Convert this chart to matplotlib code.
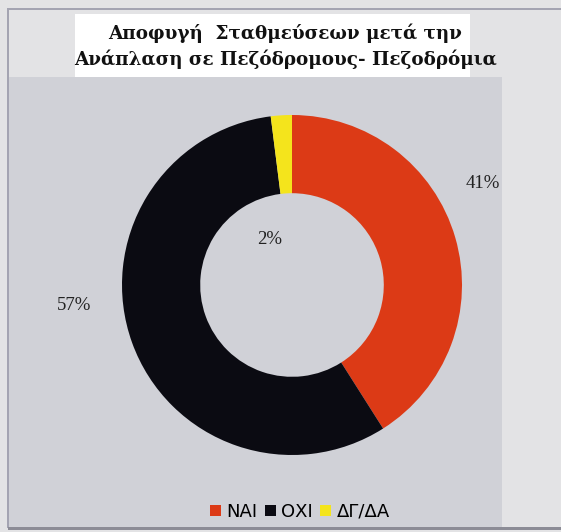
import matplotlib.pyplot as plt
from matplotlib.patches import Rectangle

# survey answers
labels = ["ΝΑΙ", "ΟΧΙ", "ΔΓ/ΔΑ"]
shares = [41, 57, 2]
colors = ["#dc3a16", "#0b0b12", "#f4e41c"]
title = "Αποφυγή  Σταθμεύσεων μετά την\nΑνάπλαση σε Πεζόδρομους- Πεζοδρόμια"

W, H = 561, 532
fig = plt.figure(figsize=(W / 100, H / 100), dpi=100, facecolor="#e3e3e5")


def px_rect(x0, y0, x1, y1, **kw):
    # rectangle given in pixel coords measured from the top-left corner
    return Rectangle((x0 / W, 1 - y1 / H), (x1 - x0) / W, (y1 - y0) / H,
                     transform=fig.transFigure, figure=fig, zorder=-1, **kw)


# panel background, title box and frame lines
fig.patches.append(px_rect(8, 77, 502, 528, facecolor="#d0d1d7", edgecolor="none"))
fig.patches.append(px_rect(75, 14, 470, 77, facecolor="white", edgecolor="none"))
fig.patches.append(px_rect(8, 8, 561, 9.5, facecolor="#a4a4b2", edgecolor="none"))
fig.patches.append(px_rect(7, 8, 8.5, 528, facecolor="#a4a4b2", edgecolor="none"))
fig.patches.append(px_rect(8, 527, 561, 529.5, facecolor="#8c8c96", edgecolor="none"))

fig.text(285 / W, 1 - 46 / H, title, ha="center", va="center",
         fontsize=13.2, fontweight="bold", family="DejaVu Serif",
         linespacing=1.45, color="#111111")

# donut
cx, cy, r = 292, 285, 170
ax = fig.add_axes([(cx - r) / W, 1 - (cy + r) / H, 2 * r / W, 2 * r / H])
ax.set_zorder(2)
ax.pie(shares, colors=colors, startangle=90, counterclock=False,
       radius=1.0, wedgeprops=dict(width=0.46, edgecolor="none"))
ax.set_xlim(-1, 1)
ax.set_ylim(-1, 1)
ax.set_aspect("auto")
ax.axis("off")

label_pos = [(1.12, 0.60), (-1.28, -0.12), (-0.13, 0.265)]
for v, (x, y) in zip(shares, label_pos):
    ax.text(x, y, f"{v}%", ha="center", va="center", fontsize=13.5,
            family="Liberation Serif", color="#222222", clip_on=False)

# legend along the bottom
handles = [Rectangle((0, 0), 1, 1, facecolor=c) for c in colors]
fig.legend(handles, labels, loc="center", bbox_to_anchor=(300 / W, 1 - 512 / H),
           ncol=3, frameon=False, handlelength=0.6, handleheight=0.6,
           handletextpad=0.3, columnspacing=0.4, fontsize=13)

fig.savefig("out.png", dpi=100, facecolor=fig.get_facecolor())
